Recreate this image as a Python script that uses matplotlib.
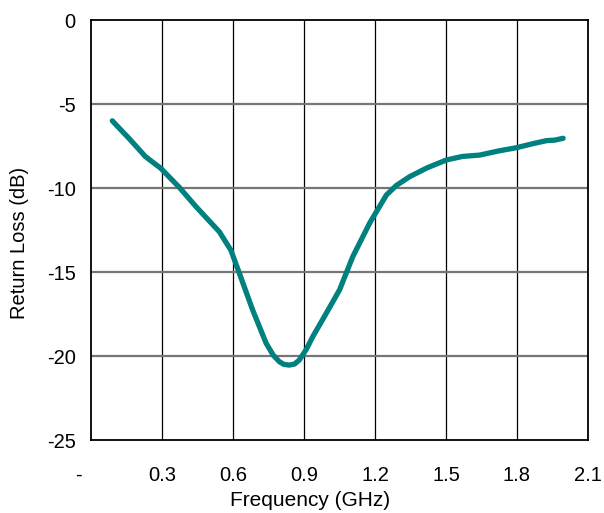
import numpy as np
import matplotlib
matplotlib.use('Agg')
from matplotlib import pyplot as plt

# return loss
freq_ghz = [0.09, 0.12, 0.16, 0.23, 0.295, 0.373, 0.443, 0.542, 0.591, 0.627, 0.683,
            0.74, 0.77, 0.796, 0.815, 0.838, 0.86, 0.88, 0.91, 0.937, 0.994, 1.05, 1.106,
            1.177, 1.248, 1.29, 1.346, 1.42, 1.502, 1.57, 1.643, 1.72, 1.798, 1.87,
            1.925, 1.96, 1.995]
loss_db = [-6.0, -6.45, -7.04, -8.13, -8.83, -9.96, -11.1, -12.6, -13.7, -15.08, -17.26,
           -19.24, -19.95, -20.34, -20.5, -20.54, -20.48, -20.24, -19.6, -18.85, -17.46,
           -16.07, -14.09, -12.1, -10.42, -9.85, -9.33, -8.8, -8.33, -8.12, -8.04, -7.8,
           -7.6, -7.35, -7.18, -7.15, -7.04]
xticks = [0, 0.3, 0.6, 0.9, 1.2, 1.5, 1.8, 2.1]
xtick_labels = ['-    ', '0.3', '0.6', '0.9', '1.2', '1.5', '1.8', '2.1']
yticks = [0, -5, -10, -15, -20, -25]

plt.rcParams['font.family'] = ['Liberation Sans', 'DejaVu Sans']

fig = plt.figure(figsize=(6.04, 5.13), dpi=100)
ax = fig.add_axes([91/604, 73/513, 497/604, 420/513])

ax.plot(freq_ghz, loss_db, color='#00807f', lw=3.8, solid_capstyle='round',
        solid_joinstyle='round', zorder=3)

ax.set_xlim(0, 2.1)
ax.set_ylim(-25, 0)
ax.set_xticks(xticks)
ax.set_xticklabels(xtick_labels)
ax.set_yticks(yticks)
ax.set_yticklabels([str(v) for v in yticks])

for x in xticks[1:-1]:
    ax.axvline(x, color='black', lw=0.9, zorder=1)
for y in yticks[1:-1]:
    ax.axhline(y, color='#767676', lw=1.6, zorder=1)

for side in ['left', 'bottom', 'top', 'right']:
    ax.spines[side].set_color('black')
    ax.spines[side].set_linewidth(1.3)

ax.tick_params(axis='y', length=0, labelsize=14.5, pad=11)
ax.tick_params(axis='x', length=0, labelsize=14.5, pad=19)

ax.set_xlabel('Frequency (GHz)', fontsize=15)
ax.xaxis.set_label_coords((310 - 91) / 497, -60 / 420)
ax.xaxis.label.set_verticalalignment('center')
ax.set_ylabel('Return Loss (dB)', fontsize=14.5)
ax.yaxis.set_label_coords((20 - 91) / 497, 0.47)
ax.yaxis.label.set_verticalalignment('center')

fig.savefig('out.png', dpi=100)
